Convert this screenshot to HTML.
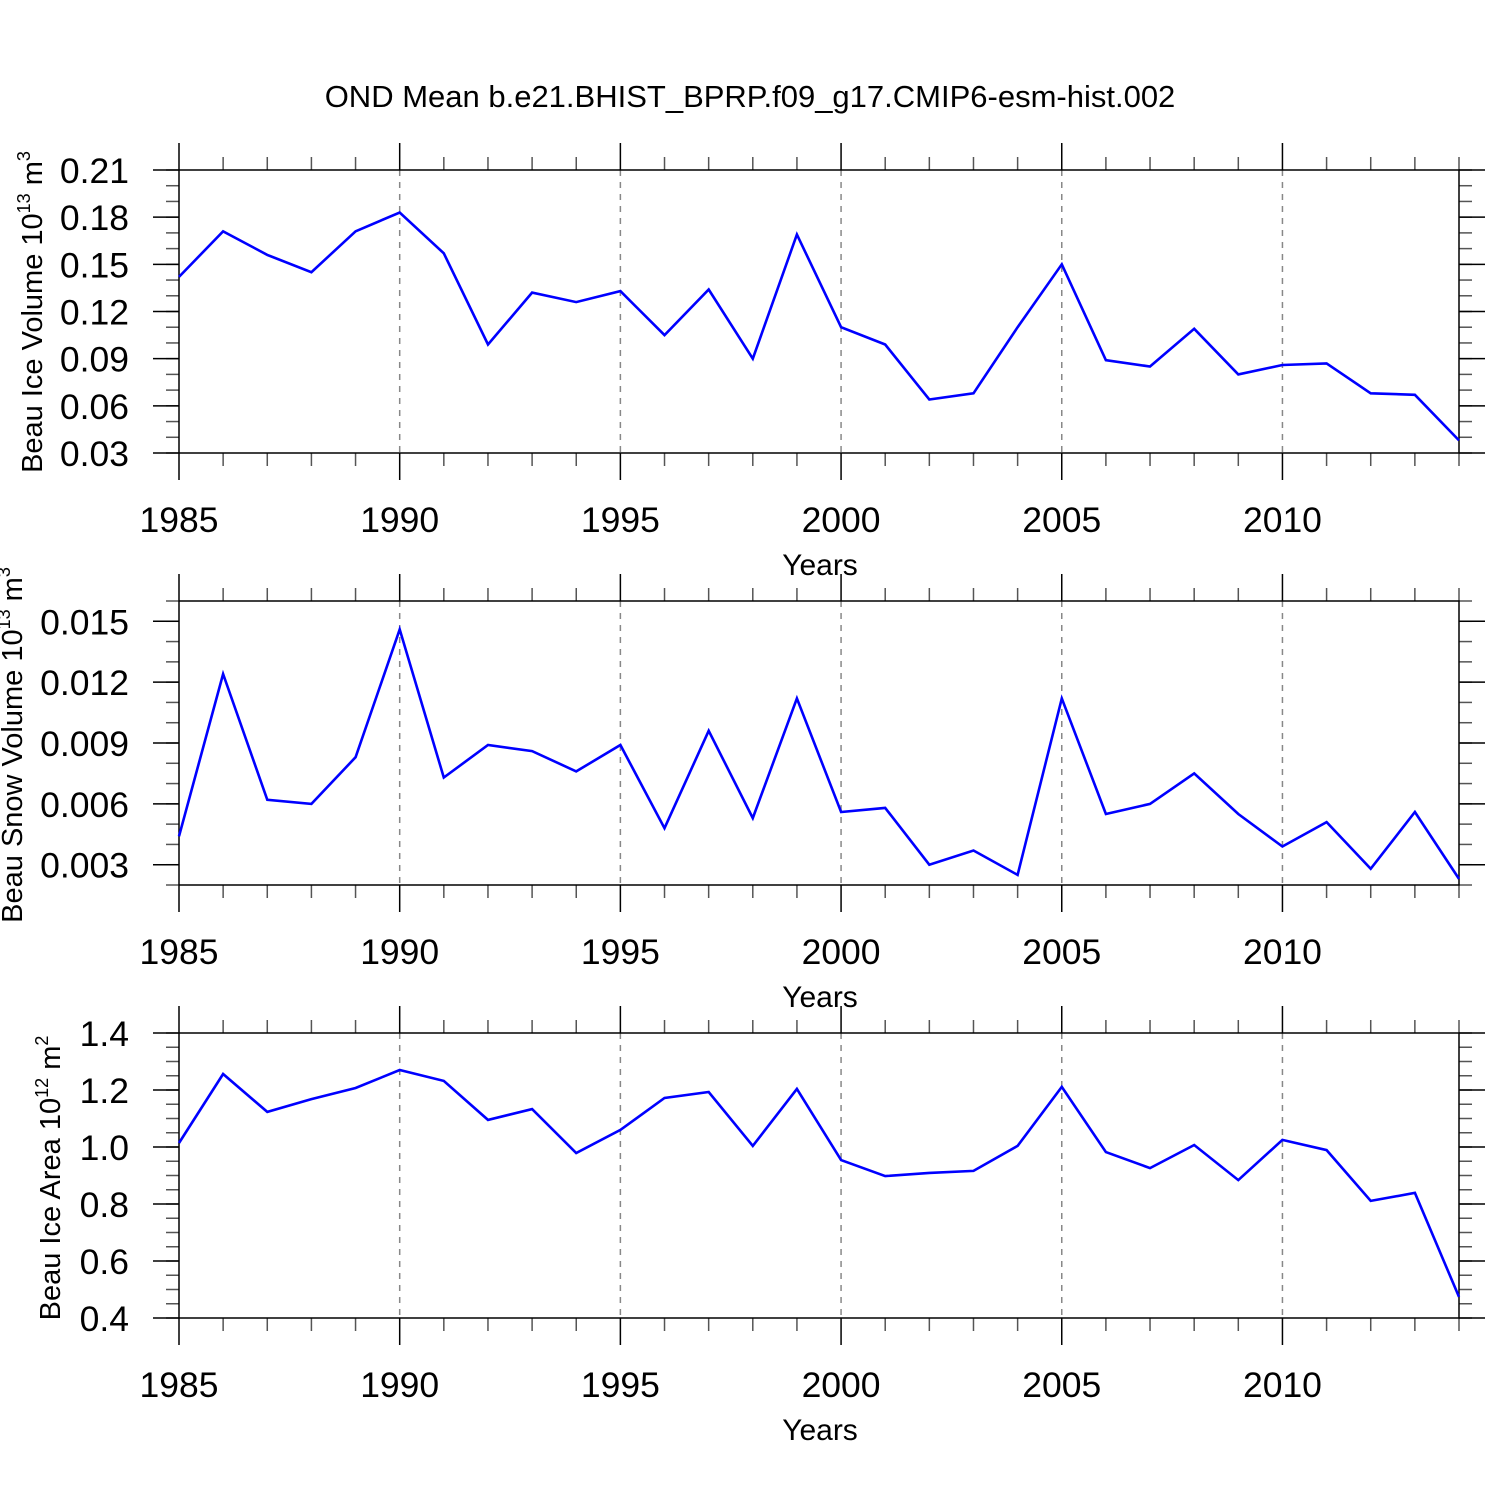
<!DOCTYPE html>
<html><head><meta charset="utf-8"><style>
html,body{margin:0;padding:0;background:#fff;}
svg{display:block;font-family:"Liberation Sans",Arial,sans-serif;}
</style></head><body>
<svg id="chart" width="1500" height="1500" viewBox="0 0 1500 1500" xmlns="http://www.w3.org/2000/svg">
<rect width="1500" height="1500" fill="#fff"/>
<text x="750" y="107" font-size="31" text-anchor="middle">OND Mean b.e21.BHIST_BPRP.f09_g17.CMIP6-esm-hist.002</text>
</svg>
<script>
const years = [1985,1986,1987,1988,1989,1990,1991,1992,1993,1994,1995,1996,1997,1998,1999,2000,2001,2002,2003,2004,2005,2006,2007,2008,2009,2010,2011,2012,2013,2014];
const iceVolume = [0.142,0.171,0.156,0.145,0.171,0.183,0.157,0.099,0.132,0.126,0.133,0.105,0.134,0.090,0.169,0.110,0.099,0.064,0.068,0.110,0.150,0.089,0.085,0.109,0.080,0.086,0.087,0.068,0.067,0.038];
const snowVolume = [0.0044,0.0124,0.0062,0.0060,0.0083,0.0146,0.0073,0.0089,0.0086,0.0076,0.0089,0.0048,0.0096,0.0053,0.0112,0.0056,0.0058,0.0030,0.0037,0.0025,0.0112,0.0055,0.0060,0.0075,0.0055,0.0039,0.0051,0.0028,0.0056,0.0023];
const iceArea = [1.014,1.256,1.123,1.168,1.207,1.270,1.232,1.095,1.133,0.979,1.060,1.172,1.193,1.004,1.204,0.954,0.898,0.909,0.916,1.004,1.211,0.982,0.926,1.007,0.884,1.025,0.989,0.811,0.839,0.474];
const xTickLabels = [1985,1990,1995,2000,2005,2010];
const iceVolTicks = ["0.03","0.06","0.09","0.12","0.15","0.18","0.21"];
const snowVolTicks = ["0.003","0.006","0.009","0.012","0.015"];
const iceAreaTicks = ["0.4","0.6","0.8","1.0","1.2","1.4"];

const NS = "http://www.w3.org/2000/svg";
const svg = document.getElementById('chart');
function mk(tag, attrs, parent){
  const e = document.createElementNS(NS, tag);
  for (const k in attrs) e.setAttribute(k, attrs[k]);
  (parent||svg).appendChild(e);
  return e;
}
const X0 = 179, X1 = 1459, xMin = 1985, xMax = 2014;
function xs(v){ return X0 + (v - xMin) / (xMax - xMin) * (X1 - X0); }

function panel(cfg){
  const g = mk('g', {});
  
  
  const ys = v => cfg.bot - (v - cfg.min) / (cfg.max - cfg.min) * (cfg.bot - cfg.top);
  xTickLabels.forEach(yr => {
    if (yr === xMin) return;
    const l = mk('line', {x1: xs(yr), x2: xs(yr), y1: cfg.top, y2: cfg.bot, stroke: '#888', 'stroke-width': 1.5, 'stroke-dasharray': '6,6'}, g);
    
    
  });
  years.forEach(yr => {
    const major = (yr % 5 === 0);
    const len = major ? 27 : 13;
    const col = major ? '#000' : '#555';
    const t1 = mk('line', {x1: xs(yr), x2: xs(yr), y1: cfg.bot, y2: cfg.bot + len, stroke: col, 'stroke-width': 1.5}, g);
    
    
    const t2 = mk('line', {x1: xs(yr), x2: xs(yr), y1: cfg.top, y2: cfg.top - len, stroke: col, 'stroke-width': 1.5}, g);
    
    
  });
  xTickLabels.forEach(yr => {
    const t = mk('text', {x: xs(yr), y: cfg.bot + 79, 'font-size': 35.5, 'text-anchor': 'middle'}, g);
    t.textContent = yr;
    
    
  });
  const xt = mk('text', {x: 820, y: cfg.bot + 122, 'font-size': 30, 'text-anchor': 'middle'}, g);
  xt.textContent = 'Years';
  
  
  const nMinor = Math.round((cfg.max - cfg.min) / cfg.minorStep);
  for (let i = 0; i <= nMinor; i++) {
    const v = cfg.min + i * cfg.minorStep;
    const y = ys(v);
    const m1 = mk('line', {x1: X0 - 13, x2: X0, y1: y, y2: y, stroke: '#555', 'stroke-width': 1.5}, g);
    
    
    const m2 = mk('line', {x1: X1, x2: X1 + 13, y1: y, y2: y, stroke: '#555', 'stroke-width': 1.5}, g);
    
    
  }
  cfg.ticks.forEach(s => {
    const y = ys(parseFloat(s));
    const a = mk('line', {x1: X0 - 26, x2: X0, y1: y, y2: y, stroke: '#000', 'stroke-width': 1.5}, g);
    
    
    const b = mk('line', {x1: X1, x2: X1 + 26, y1: y, y2: y, stroke: '#000', 'stroke-width': 1.5}, g);
    
    
    const t = mk('text', {x: 129, y: y + 13, 'font-size': 35.5, 'text-anchor': 'end'}, g);
    t.textContent = s;
    
    
  });
  const f = mk('rect', {x: X0, y: cfg.top, width: X1 - X0, height: cfg.bot - cfg.top, fill: 'none', stroke: '#000', 'stroke-width': 1.5}, g);
  
  
  const pts = cfg.data.map((v, i) => xs(years[i]).toFixed(1) + ',' + ys(v).toFixed(1)).join(' ');
  const pl = mk('polyline', {points: pts, fill: 'none', stroke: '#0000ff', 'stroke-width': 2.6, 'stroke-linejoin': 'miter'}, g);
  
  
  const yt = mk('text', {transform: 'translate(' + cfg.titleX + ',' + cfg.titleY + ') rotate(-90)', 'font-size': 29, 'text-anchor': 'middle'}, g);
  
  
  const t1 = mk('tspan', {}, yt); t1.textContent = cfg.title + ' 10';
  const t2 = mk('tspan', {'font-size': 18, dy: -12}, yt); t2.textContent = cfg.exp;
  const t3 = mk('tspan', {dy: 12}, yt); t3.textContent = ' m';
  const t4 = mk('tspan', {'font-size': 18, dy: -12}, yt); t4.textContent = cfg.unitExp;
}

panel({name: 'ice-volume', top: 170, bot: 453, min: 0.03, max: 0.21, minorStep: 0.01, ticks: iceVolTicks, data: iceVolume,
  title: 'Beau Ice Volume', exp: '13', unitExp: '3', titleX: 42, titleY: 312});
panel({name: 'snow-volume', top: 601, bot: 885, min: 0.002, max: 0.016, minorStep: 0.001, ticks: snowVolTicks, data: snowVolume,
  title: 'Beau Snow Volume', exp: '13', unitExp: '3', titleX: 22, titleY: 745});
panel({name: 'ice-area', top: 1033, bot: 1318, min: 0.4, max: 1.4, minorStep: 0.05, ticks: iceAreaTicks, data: iceArea,
  title: 'Beau Ice Area', exp: '12', unitExp: '2', titleX: 60, titleY: 1178});
</script>
</body></html>
